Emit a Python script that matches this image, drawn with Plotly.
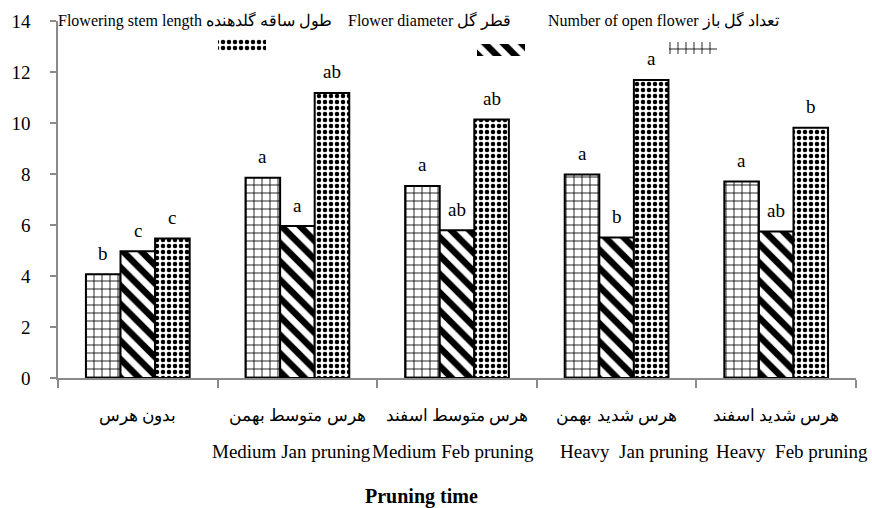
import plotly.graph_objects as go

# ---------------- data ----------------
categories = ["بدون هرس", "هرس متوسط بهمن", "هرس متوسط اسفند", "هرس شدید بهمن", "هرس شدید اسفند"]
english_labels = ["", "Medium Jan pruning", "Medium Feb pruning", "Heavy\u00a0 Jan pruning", "Heavy\u00a0 Feb pruning"]
open_flower = [4.07, 7.85, 7.53, 7.98, 7.71]
flower_diameter = [4.97, 5.96, 5.79, 5.51, 5.75]
stem_length = [5.47, 11.18, 10.14, 11.69, 9.81]
letters_open = ["b", "a", "a", "a", "a"]
letters_diam = ["c", "a", "ab", "b", "ab"]
letters_stem = ["c", "ab", "ab", "a", "b"]
series_names = ["Number of open flower", "Flower diameter", "Flowering stem length"]
legend_texts = ["Flowering stem length طول ساقه گلدهنده", "Flower diameter قطر گل", "Number of open flower تعداد گل باز"]
y_ticks = [0, 2, 4, 6, 8, 10, 12, 14]

FONT = "Liberation Serif, Times New Roman, serif"
W, H = 872, 508
ML, MR, MT, MB = 58, 16, 21, 130
BARGAP = 0.35
plot_w = W - ML - MR
plot_h = H - MT - MB
cat_px = plot_w / len(categories)
bar_px = cat_px * (1 - BARGAP) / 3

patterns = [
    dict(shape="+", size=8, solidity=0.2, fgcolor="black", bgcolor="white", fgopacity=1),
    dict(shape="\\", size=13, solidity=0.5, fgcolor="black", bgcolor="white", fgopacity=1),
    dict(shape=".", size=6, solidity=0.45, fgcolor="black", bgcolor="white", fgopacity=1),
]

fig = go.Figure()
for vals, pat, name in zip([open_flower, flower_diameter, stem_length], patterns, series_names):
    fig.add_trace(go.Bar(
        x=categories, y=vals, name=name, showlegend=False,
        marker=dict(color="white", pattern=pat, line=dict(color="black", width=2)),
    ))

annotations = []
# significance letters
for vals, letters, shift in zip([open_flower, flower_diameter, stem_length],
                                [letters_open, letters_diam, letters_stem],
                                [-bar_px, 0, bar_px]):
    for c, v, t in zip(categories, vals, letters):
        annotations.append(dict(x=c, y=v, xref="x", yref="y", text=t, showarrow=False,
                                xshift=shift, yshift=21, yanchor="middle",
                                font=dict(family=FONT, size=19, color="black")))

# English category labels (second line)
eng_shifts = [0, -6, -4, 18, 16]
for c, t, s in zip(categories, english_labels, eng_shifts):
    if t:
        annotations.append(dict(x=c, y=0, xref="x", yref="paper", text=t, showarrow=False,
                                xshift=s, yshift=-73, yanchor="middle",
                                font=dict(family=FONT, size=19, color="black")))

# axis title
annotations.append(dict(x=(421 - ML) / plot_w, y=0, xref="paper", yref="paper",
                        text="<b>Pruning time</b>", showarrow=False, yshift=-118,
                        yanchor="middle", font=dict(family=FONT, size=20, color="black")))

# legend texts (Excel-style: text line with swatches below)
legend_x_px = [56, 346, 546]
for t, xp in zip(legend_texts, legend_x_px):
    annotations.append(dict(x=(xp - ML) / plot_w, y=1, xref="paper", yref="paper", text=t,
                            showarrow=False, xanchor="left", yanchor="middle", yshift=1,
                            font=dict(family=FONT, size=16, color="black")))

# legend swatches on an overlay pixel axis
sw_x = [242, 501, 693]
sw_base = [39, 44, 42]
fig.add_trace(go.Bar(
    x=sw_x, y=[12, 12, 12], base=sw_base, width=[48, 48, 48],
    xaxis="x2", yaxis="y2", showlegend=False, hoverinfo="skip",
    marker=dict(color="white",
                pattern=dict(shape=[patterns[2]["shape"], patterns[1]["shape"], patterns[0]["shape"]],
                             size=[6, 13, 8], solidity=[0.45, 0.5, 0.2],
                             fgcolor="black", bgcolor="white", fgopacity=1),
                line=dict(color="black", width=0)),
))

fig.update_layout(
    width=W, height=H,
    margin=dict(l=ML, r=MR, t=MT, b=MB, autoexpand=False),
    paper_bgcolor="white", plot_bgcolor="white",
    barmode="group", bargap=BARGAP, bargroupgap=0,
    showlegend=False,
    font=dict(family=FONT, size=17, color="black"),
    annotations=annotations,
    xaxis=dict(type="category", range=[-0.5, len(categories) - 0.5], autorange=False,
               showline=True, linecolor="#8a8a8a", linewidth=1.5,
               ticks="outside", tickson="boundaries", ticklen=8, tickcolor="#8a8a8a",
               tickwidth=1.5, showgrid=False, zeroline=False, automargin=False,
               tickfont=dict(family=FONT, size=17, color="black"), ticklabelstandoff=21),
    yaxis=dict(range=[0, 14], autorange=False, tickvals=y_ticks, showline=True, linecolor="#8a8a8a",
               linewidth=1.5, ticks="outside", ticklen=6, tickcolor="#8a8a8a", tickwidth=1.5,
               showgrid=False, zeroline=False, automargin=False,
               tickfont=dict(family=FONT, size=19, color="black"), ticklabelstandoff=16),
    xaxis2=dict(overlaying="x", range=[ML, W - MR], autorange=False, visible=False, anchor="y2"),
    yaxis2=dict(overlaying="y", range=[H - MB, MT], autorange=False, visible=False, anchor="x2"),
)

fig.write_html("out.html", config={"displayModeBar": False},
               post_script="document.body.style.margin='0';")
